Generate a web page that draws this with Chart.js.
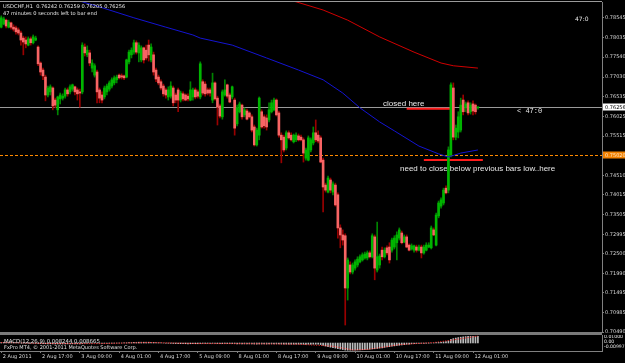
<!DOCTYPE html>
<html><head><meta charset="utf-8">
<script src="https://cdn.jsdelivr.net/npm/chart.js@4.4.1/dist/chart.umd.min.js"></script>
<style>
html,body{margin:0;padding:0;background:#000;width:625px;height:363px;overflow:hidden}
#wrap{position:relative;width:625px;height:363px;background:#000}
#c1{position:absolute;left:0;top:0}
#c2{position:absolute;left:0;top:335px}
</style></head><body>
<div id="wrap"><canvas id="c1" width="625" height="336"></canvas><canvas id="c2" width="625" height="28"></canvas></div>
<script>
// ---- DATA ----
const tickLabels = ['2 Aug 2011','2 Aug 17:00','3 Aug 09:00','4 Aug 01:00','4 Aug 17:00','5 Aug 09:00','8 Aug 01:00','8 Aug 17:00','9 Aug 09:00','10 Aug 01:00','10 Aug 17:00','11 Aug 09:00','12 Aug 01:00'];
const slotCount = 245; // hourly slots across the visible window (last ones empty)
const priceTicks = [0.78545,0.78035,0.77540,0.77030,0.76535,0.76025,0.75515,0.75020,0.74510,0.74015,0.73505,0.72995,0.72500,0.71990,0.71495,0.70985,0.70490];

const opens = [0.7831,0.7839,0.7849,0.7831,0.7842,0.7831,0.7829,0.7824,0.7816,0.7803,
0.7798,0.7785,0.7801,0.7791,0.7798,0.7780,0.7739,0.7721,0.7703,0.7657,
0.7665,0.7675,0.7644,0.7619,0.7647,0.7649,0.7654,0.7670,0.7665,0.7672,
0.7678,0.7670,0.7665,0.7665,0.7780,0.7760,0.7765,0.7726,0.7708,0.7716,
0.7670,0.7657,0.7652,0.7665,0.7672,0.7680,0.7688,0.7696,0.7708,0.7706,
0.7706,0.7703,0.7742,0.7760,0.7767,0.7791,0.7765,0.7747,0.7778,0.7772,
0.7785,0.7747,0.7760,0.7721,0.7703,0.7691,0.7680,0.7670,0.7652,0.7654,
0.7675,0.7657,0.7670,0.7644,0.7660,0.7657,0.7654,0.7644,0.7652,0.7670,
0.7665,0.7652,0.7691,0.7685,0.7670,0.7670,0.7644,0.7688,0.7649,0.7629,
0.7601,0.7657,0.7683,0.7657,0.7652,0.7644,0.7583,0.7614,0.7631,0.7606,
0.7616,0.7611,0.7601,0.7575,0.7529,0.7554,0.7614,0.7601,0.7598,0.7593,
0.7614,0.7619,0.7644,0.7611,0.7554,0.7549,0.7521,0.7560,0.7554,0.7537,
0.7542,0.7552,0.7549,0.7542,0.7495,0.7490,0.7516,0.7534,0.7560,0.7554,
0.7547,0.7490,0.7426,0.7408,0.7439,0.7408,0.7426,0.7401,0.7316,0.7298,
0.7296,0.7162,0.7221,0.7203,0.7213,0.7221,0.7229,0.7234,0.7239,0.7239,
0.7252,0.7242,0.7293,0.7208,0.7221,0.7259,0.7242,0.7265,0.7267,0.7259,
0.7267,0.7278,0.7290,0.7303,0.7280,0.7293,0.7272,0.7262,0.7259,0.7267,
0.7259,0.7267,0.7252,0.7259,0.7267,0.7265,0.7311,0.7272,0.7347,0.7372,
0.7380,0.7418,0.7413,0.7503,0.7675,0.7549,0.7562,0.7567,0.7644,0.7624,
0.7637,0.7614,0.7634,0.7631,0.76242];
const highs = [0.7860,0.7857,0.7852,0.7849,0.7844,0.7837,0.7834,0.7829,0.7821,0.7808,
0.7806,0.7806,0.7806,0.7811,0.7808,0.7783,0.7742,0.7726,0.7708,0.7680,
0.7683,0.7678,0.7649,0.7654,0.7662,0.7660,0.7675,0.7675,0.7683,0.7685,
0.7680,0.7675,0.7672,0.7791,0.7788,0.7783,0.7772,0.7747,0.7737,0.7721,
0.7675,0.7665,0.7680,0.7685,0.7693,0.7701,0.7706,0.7708,0.7711,0.7711,
0.7708,0.7749,0.7772,0.7778,0.7798,0.7796,0.7791,0.7783,0.7780,0.7785,
0.7798,0.7788,0.7767,0.7726,0.7708,0.7696,0.7685,0.7675,0.7678,0.7691,
0.7680,0.7662,0.7675,0.7667,0.7665,0.7660,0.7660,0.7691,0.7675,0.7675,
0.7670,0.7742,0.7696,0.7691,0.7675,0.7675,0.7713,0.7691,0.7654,0.7634,
0.7670,0.7696,0.7685,0.7662,0.7680,0.7649,0.7631,0.7639,0.7634,0.7624,
0.7621,0.7614,0.7606,0.7580,0.7572,0.7652,0.7619,0.7606,0.7606,0.7637,
0.7644,0.7649,0.7647,0.7616,0.7560,0.7554,0.7565,0.7565,0.7560,0.7557,
0.7560,0.7557,0.7554,0.7547,0.7521,0.7552,0.7547,0.7575,0.7593,0.7565,
0.7552,0.7495,0.7431,0.7449,0.7444,0.7434,0.7431,0.7406,0.7324,0.7311,
0.7301,0.7239,0.7229,0.7226,0.7234,0.7242,0.7247,0.7252,0.7254,0.7257,
0.7257,0.7301,0.7298,0.7331,0.7249,0.7267,0.7265,0.7270,0.7278,0.7290,
0.7296,0.7306,0.7316,0.7308,0.7298,0.7298,0.7275,0.7275,0.7272,0.7272,
0.7272,0.7272,0.7272,0.7278,0.7278,0.7321,0.7316,0.7354,0.7385,0.7393,
0.7418,0.7424,0.7524,0.7688,0.7688,0.7580,0.7614,0.7649,0.7657,0.7639,
0.7642,0.7637,0.7642,0.7634,0.76259];
const lows = [0.7829,0.7837,0.7829,0.7829,0.7826,0.7821,0.7813,0.7811,0.7785,0.7760,
0.7778,0.7783,0.7785,0.7788,0.7796,0.7732,0.7708,0.7696,0.7642,0.7652,
0.7657,0.7619,0.7624,0.7606,0.7634,0.7644,0.7649,0.7654,0.7660,0.7667,
0.7657,0.7644,0.7626,0.7660,0.7757,0.7755,0.7732,0.7716,0.7703,0.7637,
0.7637,0.7637,0.7647,0.7657,0.7667,0.7675,0.7683,0.7688,0.7698,0.7698,
0.7696,0.7701,0.7737,0.7752,0.7762,0.7762,0.7742,0.7742,0.7739,0.7747,
0.7744,0.7742,0.7708,0.7691,0.7683,0.7670,0.7654,0.7649,0.7644,0.7649,
0.7629,0.7637,0.7614,0.7639,0.7642,0.7642,0.7642,0.7642,0.7644,0.7647,
0.7649,0.7647,0.7657,0.7654,0.7657,0.7654,0.7637,0.7644,0.7580,0.7598,
0.7595,0.7654,0.7649,0.7637,0.7647,0.7554,0.7578,0.7611,0.7595,0.7601,
0.7593,0.7598,0.7562,0.7526,0.7526,0.7542,0.7572,0.7572,0.7567,0.7588,
0.7611,0.7616,0.7603,0.7549,0.7483,0.7511,0.7516,0.7544,0.7539,0.7534,
0.7537,0.7539,0.7539,0.7485,0.7490,0.7488,0.7511,0.7529,0.7537,0.7534,
0.7483,0.7357,0.7408,0.7406,0.7406,0.7401,0.7372,0.7290,0.7265,0.7272,
0.7067,0.7131,0.7198,0.7198,0.7208,0.7216,0.7226,0.7231,0.7236,0.7234,
0.7239,0.7239,0.7183,0.7203,0.7213,0.7234,0.7239,0.7247,0.7226,0.7254,
0.7262,0.7234,0.7285,0.7275,0.7278,0.7265,0.7257,0.7259,0.7254,0.7254,
0.7257,0.7239,0.7249,0.7257,0.7265,0.7262,0.7296,0.7270,0.7342,0.7367,
0.7375,0.7403,0.7406,0.7498,0.7542,0.7542,0.7547,0.7562,0.7606,0.7614,
0.7606,0.7608,0.7606,0.7608,0.76205];
const closes = [0.7855,0.7852,0.7834,0.7844,0.7831,0.7826,0.7819,0.7816,0.7798,0.7793,
0.7788,0.7801,0.7791,0.7806,0.7803,0.7737,0.7716,0.7706,0.7657,0.7675,
0.7678,0.7629,0.7631,0.7652,0.7657,0.7654,0.7670,0.7660,0.7678,0.7683,
0.7665,0.7660,0.7662,0.7785,0.7765,0.7772,0.7739,0.7739,0.7732,0.7665,
0.7649,0.7644,0.7675,0.7680,0.7688,0.7696,0.7701,0.7703,0.7701,0.7703,
0.7701,0.7747,0.7767,0.7772,0.7791,0.7767,0.7785,0.7778,0.7747,0.7752,
0.7760,0.7780,0.7716,0.7698,0.7688,0.7675,0.7660,0.7657,0.7670,0.7680,
0.7637,0.7644,0.7644,0.7662,0.7647,0.7644,0.7647,0.7670,0.7670,0.7652,
0.7654,0.7737,0.7662,0.7660,0.7662,0.7662,0.7688,0.7647,0.7626,0.7603,
0.7665,0.7670,0.7654,0.7639,0.7678,0.7572,0.7624,0.7634,0.7601,0.7619,
0.7595,0.7601,0.7567,0.7529,0.7567,0.7649,0.7575,0.7578,0.7575,0.7619,
0.7637,0.7644,0.7606,0.7554,0.7542,0.7516,0.7560,0.7547,0.7542,0.7554,
0.7554,0.7542,0.7542,0.7508,0.7516,0.7547,0.7542,0.7560,0.7542,0.7539,
0.7485,0.7421,0.7413,0.7444,0.7413,0.7429,0.7375,0.7316,0.7298,0.7285,
0.7162,0.7234,0.7203,0.7221,0.7229,0.7236,0.7242,0.7247,0.7249,0.7252,
0.7242,0.7296,0.7213,0.7242,0.7244,0.7242,0.7259,0.7252,0.7234,0.7285,
0.7290,0.7298,0.7311,0.7278,0.7293,0.7267,0.7259,0.7270,0.7270,0.7259,
0.7267,0.7252,0.7267,0.7272,0.7272,0.7316,0.7298,0.7349,0.7380,0.7388,
0.7413,0.7406,0.7516,0.7683,0.7549,0.7572,0.7601,0.7631,0.7614,0.7634,
0.7611,0.7631,0.7616,0.7614,0.76256];

// moving averages read at sample bars: [bar index, value]
const blueMA = [[24,0.7912],[33,0.7896],[40,0.7883],[54,0.7855],[67,0.7831],[78,0.7811],[81,0.7803],[94,0.7785],[108,0.7752],[121,0.7721],[131,0.7696],[139,0.7662],[146,0.7624],[154,0.7588],[160,0.7565],[170,0.7526],[178,0.7506],[182,0.7498],[187,0.7508],[194,0.7516]];
const redMA = [[110,0.7915],[120,0.7896],[131,0.7875],[141,0.7849],[154,0.7806],[168,0.7767],[179,0.7739],[184,0.7732],[194,0.7726]];

// MACD main (histogram) per bar and signal at sample bars
const macdMain = [0.0008,0.0008,0.0007,0.0006,0.0005,0.0004,0.0003,0.0002,0.0000,-0.0002,
-0.0003,-0.0004,-0.0004,-0.0004,-0.0005,-0.0006,-0.0007,-0.0008,-0.0009,-0.0010,
-0.0010,-0.0011,-0.0012,-0.0012,-0.0012,-0.0012,-0.0011,-0.0011,-0.0010,-0.0010,
-0.0010,-0.0010,-0.0010,-0.0007,-0.0005,-0.0003,-0.0002,-0.0001,0.0000,-0.0002,
-0.0004,-0.0005,-0.0005,-0.0005,-0.0004,-0.0003,-0.0002,-0.0001,0.0000,0.0000,
0.0001,0.0003,0.0005,0.0006,0.0008,0.0009,0.0010,0.0010,0.0010,0.0010,
0.0010,0.0010,0.0008,0.0006,0.0004,0.0002,0.0000,-0.0002,-0.0003,-0.0004,
-0.0006,-0.0007,-0.0008,-0.0008,-0.0009,-0.0009,-0.0010,-0.0009,-0.0009,-0.0009,
-0.0009,-0.0006,-0.0005,-0.0005,-0.0005,-0.0005,-0.0004,-0.0005,-0.0007,-0.0009,
-0.0008,-0.0007,-0.0007,-0.0008,-0.0007,-0.0009,-0.0010,-0.0010,-0.0011,-0.0011,
-0.0011,-0.0011,-0.0012,-0.0013,-0.0014,-0.0012,-0.0012,-0.0012,-0.0013,-0.0012,
-0.0011,-0.0010,-0.0011,-0.0012,-0.0013,-0.0014,-0.0014,-0.0015,-0.0015,-0.0015,
-0.0015,-0.0015,-0.0015,-0.0016,-0.0017,-0.0016,-0.0016,-0.0015,-0.0015,-0.0015,
-0.0020,-0.0030,-0.0038,-0.0045,-0.0052,-0.0058,-0.0064,-0.0070,-0.0076,-0.0082,
-0.0088,-0.0090,-0.0090,-0.0089,-0.0088,-0.0087,-0.0086,-0.0084,-0.0082,-0.0080,
-0.0078,-0.0074,-0.0072,-0.0068,-0.0064,-0.0060,-0.0055,-0.0050,-0.0045,-0.0040,
-0.0036,-0.0032,-0.0028,-0.0024,-0.0020,-0.0016,-0.0013,-0.0010,-0.0008,-0.0006,
-0.0005,-0.0004,-0.0004,-0.0003,-0.0002,0.0000,0.0002,0.0004,0.0007,0.0010,
0.0014,0.0018,0.0026,0.0045,0.0055,0.0062,0.0068,0.0073,0.0077,0.0080,
0.0082,0.0084,0.0084,0.0083,0.0082];
const macdSignal = [[0,0.0006],[20,-0.0006],[40,-0.0008],[60,0.0007],[80,-0.0007],[100,-0.0008],[121,-0.0015],[135,-0.0040],[143,-0.0087],[149,-0.0080],[156,-0.0050],[162,-0.0020],[176,0.0006],[184,0.0039],[194,0.0087]];

const currentPrice = 0.76256;
const alertLevel = 0.75020;
const redSegments = [{from:165, to:183, price:0.7622},{from:172, to:196, price:0.7490}];
const notes = [{text:'closed here', index:155.4, price:0.76275},{text:'need to close below previous bars low..here', index:162.3, price:0.74608}];
const countdownNote = {text:'< 47:0', index:209.9, price:0.76096};
const titleLine1 = 'USDCHF,H1  0.76242 0.76259 0.76205 0.76256';
const titleLine2 = '47 minutes 0 seconds left to bar end';
const cornerTimer = '47:0';
const macdTitle = 'MACD(12,26,9) 0.008244 0.008665';
const copyrightText = 'FxPro MT4, \u00a9 2001-2011 MetaQuotes Software Corp.';
const macdAxisLabels = [{t:'0.01000', v:0.0075},{t:'0.00', v:0.0013},{t:'-0.00997', v:-0.0052}];
const macdMax = 0.0100, macdMin = -0.00997;

// ---- BUILD ----
const categories = Array.from({length: slotCount}, (_, i) => i);
const bull = i => closes[i] >= opens[i];
const wickData = lows.map((l, i) => [l, highs[i]]);
const bodyData = opens.map((o, i) => [o, closes[i]]);
const sparse = pts => { const a = new Array(slotCount).fill(null); pts.forEach(([i, v]) => a[i] = v); return a; };

const GRID = '#808080';
const TXT = '#d8d8d8';
const noPad = s => { s.paddingLeft = 0; s.paddingRight = 0; s.paddingTop = 0; s.paddingBottom = 0; };

const mainOverlay = {
  id: 'mainOverlay',
  beforeDatasetsDraw(chart) {
    const {ctx, chartArea: a, scales: {x, y}} = chart;
    ctx.save();
    const yc = Math.round(y.getPixelForValue(currentPrice)) + 0.5;
    ctx.strokeStyle = '#9a9a9a'; ctx.lineWidth = 1;
    ctx.beginPath(); ctx.moveTo(a.left, yc); ctx.lineTo(a.right, yc); ctx.stroke();
    const yo = Math.round(y.getPixelForValue(alertLevel)) + 0.5;
    ctx.strokeStyle = '#ff8a00'; ctx.setLineDash([3, 2]);
    ctx.beginPath(); ctx.moveTo(a.left, yo); ctx.lineTo(a.right, yo); ctx.stroke();
    ctx.setLineDash([]);
    ctx.strokeStyle = '#ff1c1c'; ctx.lineWidth = 2;
    redSegments.forEach(s => {
      const ys = y.getPixelForValue(s.price);
      ctx.beginPath(); ctx.moveTo(x.getPixelForValue(s.from), ys); ctx.lineTo(x.getPixelForValue(s.to), ys); ctx.stroke();
    });
    ctx.fillStyle = '#e8e8e8'; ctx.textBaseline = 'alphabetic'; ctx.textAlign = 'left';
    ctx.font = '8px "Liberation Sans", Arial, sans-serif';
    notes.forEach(n => ctx.fillText(n.text, x.getPixelForValue(n.index), y.getPixelForValue(n.price)));
    ctx.font = '7px "Liberation Mono", monospace';
    ctx.fillText(countdownNote.text, x.getPixelForValue(countdownNote.index), y.getPixelForValue(countdownNote.price));
    ctx.restore();
  },
  afterDraw(chart) {
    const {ctx, chartArea: a, scales: {y}} = chart;
    ctx.save();
    ctx.fillStyle = '#9a9a9a'; ctx.fillRect(0, 1, a.right, 1);
    ctx.fillStyle = '#7a7a7a'; ctx.fillRect(0, a.bottom, a.right, 3);
    ctx.font = '5px "DejaVu Sans", sans-serif'; ctx.textBaseline = 'middle'; ctx.textAlign = 'left';
    const yc = y.getPixelForValue(currentPrice);
    ctx.fillStyle = '#ffffff'; ctx.fillRect(a.right + 1, Math.round(yc) - 3.5, 24, 7);
    ctx.fillStyle = '#000000'; ctx.fillText(currentPrice.toFixed(5), a.right + 3, yc + 0.5);
    const yo = y.getPixelForValue(alertLevel);
    ctx.fillStyle = '#f08000'; ctx.fillRect(a.right + 1, Math.round(yo) - 3.5, 24, 7);
    ctx.fillStyle = '#ffe8c8'; ctx.fillText(alertLevel.toFixed(5), a.right + 3, yo + 0.5);
    ctx.fillStyle = '#e8e8e8'; ctx.textBaseline = 'alphabetic';
    ctx.font = '5.1px "DejaVu Sans", sans-serif';
    ctx.fillText(titleLine1, 3, 8);
    ctx.fillText(titleLine2, 3, 15);
    ctx.font = '6px "DejaVu Sans", sans-serif';
    ctx.fillText(cornerTimer, 575, 21);
    ctx.restore();
  }
};

new Chart(document.getElementById('c1'), {
  type: 'bar',
  data: {
    labels: categories,
    datasets: [
      {type: 'line', data: sparse(blueMA), borderColor: '#1414d2', borderWidth: 1, pointRadius: 0, spanGaps: true, order: 1, tension: 0},
      {type: 'line', data: sparse(redMA), borderColor: '#d00000', borderWidth: 1, pointRadius: 0, spanGaps: true, order: 1, tension: 0},
      {data: bodyData, grouped: false, barThickness: 2, minBarLength: 1, order: 2, borderWidth: 0,
        backgroundColor: c => bull(c.dataIndex) ? '#00b400' : '#f86464'},
      {data: wickData, grouped: false, barThickness: 1, order: 3, borderWidth: 0,
        backgroundColor: c => bull(c.dataIndex) ? '#008400' : '#9a0000'}
    ]
  },
  options: {
    responsive: false, animation: false, devicePixelRatio: 1, events: [],
    layout: {padding: {left: 0, right: 0, top: 2, bottom: 4}},
    plugins: {legend: {display: false}, tooltip: {enabled: false}},
    scales: {
      x: {type: 'category', display: false, offset: true, afterFit: noPad},
      y: {
        position: 'right', min: 0.704909, max: 0.789554,
        afterBuildTicks: s => { s.ticks = priceTicks.map(v => ({value: v})); },
        afterFit: s => { s.width = 23; noPad(s); },
        ticks: {color: TXT, font: {family: 'DejaVu Sans', size: 5}, padding: 1, callback: v => Number(v).toFixed(5)},
        grid: {drawOnChartArea: false, drawTicks: true, tickLength: 2, color: GRID},
        border: {display: true, color: GRID}
      }
    }
  },
  plugins: [mainOverlay]
});

const macdOverlay = {
  id: 'macdOverlay',
  afterDraw(chart) {
    const {ctx, chartArea: a, scales: {y}} = chart;
    ctx.save();
    ctx.fillStyle = '#e0e0e0'; ctx.textAlign = 'left'; ctx.textBaseline = 'alphabetic';
    ctx.font = '5.4px "DejaVu Sans", sans-serif';
    ctx.fillText(macdTitle, 4, 8);
    ctx.font = '5px "DejaVu Sans", sans-serif';
    ctx.fillText(copyrightText, 4, 13.5);
    ctx.textBaseline = 'middle';
    ctx.font = '4.6px "DejaVu Sans", sans-serif';
    macdAxisLabels.forEach(l => ctx.fillText(l.t, a.right + 2, y.getPixelForValue(l.v)));
    ctx.restore();
  }
};

new Chart(document.getElementById('c2'), {
  type: 'bar',
  data: {
    labels: categories,
    datasets: [
      {type: 'line', data: sparse(macdSignal), borderColor: '#ff2020', borderWidth: 1, borderDash: [1, 1.5], pointRadius: 0, spanGaps: true, order: 1},
      {data: macdMain, grouped: false, barThickness: 1, backgroundColor: '#bdbdbd', borderWidth: 0, order: 2}
    ]
  },
  options: {
    responsive: false, animation: false, devicePixelRatio: 1, events: [],
    layout: {padding: {left: 0, right: 0, top: 0, bottom: 0}},
    plugins: {legend: {display: false}, tooltip: {enabled: false}},
    scales: {
      x: {
        type: 'category', offset: true,
        afterFit: s => { s.height = 12; noPad(s); },
        ticks: {autoSkip: false, maxRotation: 0, minRotation: 0, align: 'start', labelOffset: 1.5, padding: 1,
          color: TXT, font: {family: 'DejaVu Sans', size: 5},
          callback: (v, i) => (i % 16 === 0 && tickLabels[i / 16]) ? tickLabels[i / 16] : ''},
        grid: {drawOnChartArea: false, offset: false, tickLength: 2,
          color: c => (c.index % 16 === 0 && c.index / 16 < tickLabels.length) ? GRID : 'rgba(0,0,0,0)'},
        border: {display: true, color: GRID}
      },
      y: {
        position: 'right', min: macdMin, max: macdMax,
        afterFit: s => { s.width = 23; noPad(s); },
        ticks: {display: false}, grid: {display: false},
        border: {display: true, color: GRID}
      }
    }
  },
  plugins: [macdOverlay]
});
</script>
</body></html>
